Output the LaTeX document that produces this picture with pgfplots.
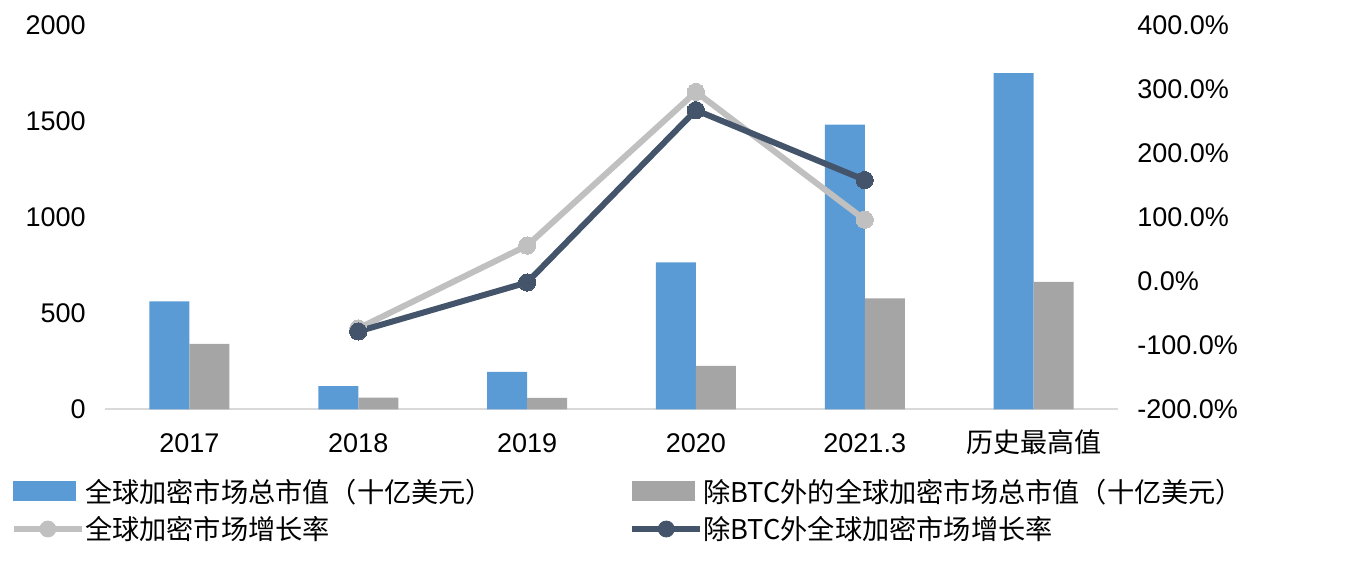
\documentclass[border=0pt]{standalone}
\usepackage{fontspec}
\setmainfont{Liberation Sans}
\newfontfamily\cjk{Noto Sans CJK SC}
\usepackage{pgfplots}
\pgfplotsset{compat=1.18}
\definecolor{barblue}{HTML}{5B9BD5}
\definecolor{bargray}{HTML}{A5A5A5}
\definecolor{linegray}{HTML}{C0C0C0}
\definecolor{linedark}{HTML}{44546A}
\definecolor{axisgray}{HTML}{D9D9D9}
\begin{document}
\begin{tikzpicture}[x=1pt,y=1pt]
\useasboundingbox (0,0) rectangle (675,289);
\begin{axis}[
  at={(52.5pt,84.35pt)}, anchor=south west,
  scale only axis, width=506.5pt, height=192.15pt,
  xmin=-0.5, xmax=5.5, ymin=0, ymax=2000,
  ybar=0pt, bar width=20pt,
  axis x line*=bottom, axis y line*=left,
  x axis line style={draw=axisgray, line width=0.8pt, -},
  y axis line style={draw=none},
  major tick length=0pt,
  xtick={0,1,2,3,4,5},
  xticklabels={2017,2018,2019,2020,2021.3,{\cjk 历史最高值}},
  ytick={0,500,1000,1500,2000},
  /pgf/number format/assume math mode=true,
  /pgf/number format/1000 sep={},
  tick label style={font=\fontsize{13.5}{16}\selectfont},
  xticklabel style={anchor=north, inner sep=0pt, text height=9.7pt, text depth=0pt, yshift=-11.8pt},
  yticklabel style={anchor=east, inner sep=0pt, xshift=-9.5pt},
]
\addplot[fill=barblue, draw=none] coordinates {(0,561) (1,121) (2,195) (3,764) (4,1482) (5,1749)};
\addplot[fill=bargray, draw=none] coordinates {(0,341) (1,61) (2,59) (3,226) (4,577) (5,663)};
\end{axis}
\begin{axis}[
  at={(52.5pt,84.35pt)}, anchor=south west,
  scale only axis, width=506.5pt, height=192.15pt,
  xmin=-0.5, xmax=5.5, ymin=-200, ymax=400,
  axis x line=none, axis y line*=right,
  y axis line style={draw=none},
  major tick length=0pt,
  ytick={-200,-100,0,100,200,300,400},
  yticklabel={\pgfmathprintnumber[fixed,fixed zerofill,precision=1]{\tick}\%},
  /pgf/number format/assume math mode=true,
  tick label style={font=\fontsize{13.5}{16}\selectfont},
  yticklabel style={anchor=west, inner sep=0pt, xshift=9.5pt},
  legend columns=2,
  legend style={at={(-0.0935,-0.1866)}, anchor=north west, draw=none, fill=none,
    inner sep=0pt, row sep=5pt, column sep=0pt,
    font=\cjk\fontsize{13.6}{15}\selectfont,
    nodes={inner sep=0pt, text height=10.5pt, text depth=3pt, anchor=base west},
    /tikz/column 2/.style={text width=272pt}},
  legend cell align=left,
]
\addlegendimage{legend image code/.code={\fill[barblue] (0pt,0.8pt) rectangle (31pt,10.3pt); \path (35pt,0pt);}}
\addlegendentry{全球加密市场总市值（十亿美元）}
\addlegendimage{legend image code/.code={\fill[bargray] (0pt,0.8pt) rectangle (31pt,10.3pt); \path (35pt,0pt);}}
\addlegendentry{除BTC外的全球加密市场总市值（十亿美元）}
\addlegendimage{legend image code/.code={\draw[linegray, line width=3.2pt] (0pt,5.2pt) -- (34pt,5.2pt); \fill[linegray] (17pt,5.2pt) circle (4pt); \path (35pt,0pt);}}
\addlegendentry{全球加密市场增长率}
\addlegendimage{legend image code/.code={\draw[linedark, line width=3.2pt] (0pt,5.2pt) -- (34pt,5.2pt); \fill[linedark] (17pt,5.2pt) circle (4pt); \path (35pt,0pt);}}
\addlegendentry{除BTC外全球加密市场增长率}
\addplot[linegray, line width=3pt, mark=*, mark size=4.3pt, mark options={fill=linegray, draw=linegray, line width=0pt}, forget plot]
  coordinates {(1,-73.7) (2,55.6) (3,295.5) (4,96)};
\addplot[linedark, line width=3pt, mark=*, mark size=4.3pt, mark options={fill=linedark, draw=linedark, line width=0pt}, forget plot]
  coordinates {(1,-78.4) (2,-2) (3,267) (4,158)};
\end{axis}
\end{tikzpicture}
\end{document}
